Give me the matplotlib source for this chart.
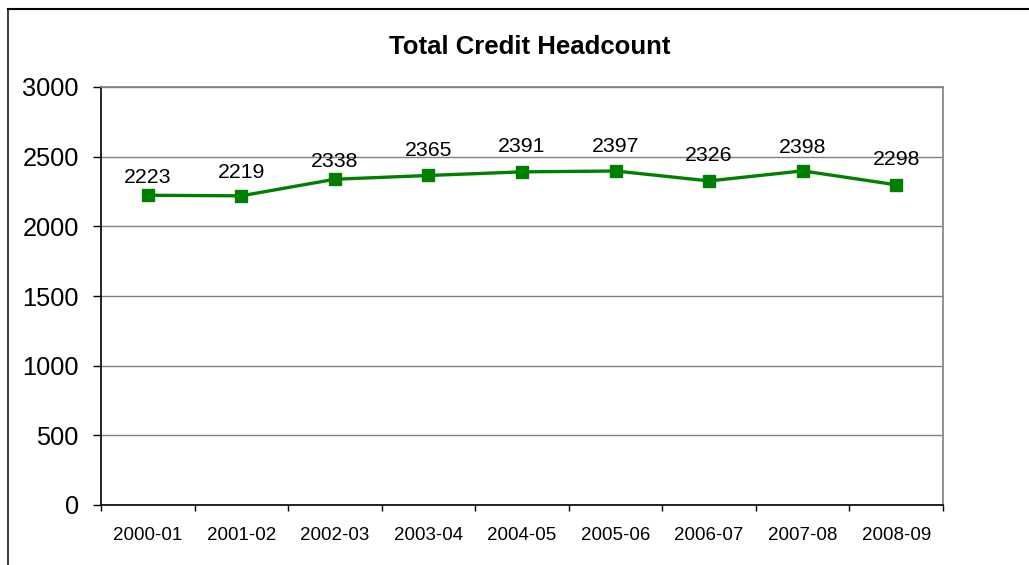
import numpy as np
import matplotlib.pyplot as plt
from matplotlib.lines import Line2D

plt.rcParams['font.family'] = ['Liberation Sans', 'DejaVu Sans']

# ---------------------------------------------------------------------
# Data
# ---------------------------------------------------------------------
years = ["2000-01", "2001-02", "2002-03", "2003-04", "2004-05",
         "2005-06", "2006-07", "2007-08", "2008-09"]
headcount = [2223, 2219, 2338, 2365, 2391, 2397, 2326, 2398, 2298]
y_ticks = [0, 500, 1000, 1500, 2000, 2500, 3000]

# label offsets above each point (points), as placed in the original
label_offsets = [9, 13, 9, 14, 14, 14, 14, 13, 14]

# ---------------------------------------------------------------------
# Figure
# ---------------------------------------------------------------------
W, H = 1029, 565
fig = plt.figure(figsize=(W / 100, H / 100), dpi=100)
ax = fig.add_axes([101 / W, 1 - 505 / H, 842 / W, 418 / H])

x = np.arange(len(years))
ax.plot(x, headcount, color="#008000", linewidth=2.4, marker="s",
        markersize=8.5, zorder=3)

for xi, val, off in zip(x, headcount, label_offsets):
    ax.annotate(str(val), (xi, val), xytext=(0, off), textcoords="offset points",
                ha="center", va="baseline", fontsize=15.3)

ax.set_xlim(-0.5, len(years) - 0.5)
ax.set_ylim(0, 3000)
ax.set_yticks(y_ticks)
ax.tick_params(axis="y", labelsize=18.3, length=6, width=1, pad=10)

ax.set_xticks(x)
ax.set_xticklabels(years, fontsize=13.5)
ax.set_xticks(np.arange(-0.5, len(years)), minor=True)
ax.tick_params(axis="x", which="major", length=0, pad=16)
ax.tick_params(axis="x", which="minor", length=4, width=1, color="black")

ax.grid(axis="y", color="#808080", linewidth=1)
ax.set_axisbelow(True)
ax.spines["left"].set_color("black")
ax.spines["bottom"].set_color("black")
ax.spines["top"].set_color("#808080")
ax.spines["right"].set_color("#808080")
for s in ax.spines.values():
    s.set_linewidth(1.2)

fig.text(530 / W, 1 - 47 / H, "Total Credit Headcount", ha="center",
         va="center", fontsize=18.5, fontweight="bold")

# outer chart border (cropped on the right and bottom)
fig.add_artist(Line2D([8 / W, 8 / W], [0, 1 - 9 / H], color="#404040",
                      linewidth=1.5, transform=fig.transFigure))
fig.add_artist(Line2D([8 / W, 1], [1 - 9 / H, 1 - 9 / H], color="black",
                      linewidth=1.5, transform=fig.transFigure))

fig.savefig("out.png", dpi=100)
